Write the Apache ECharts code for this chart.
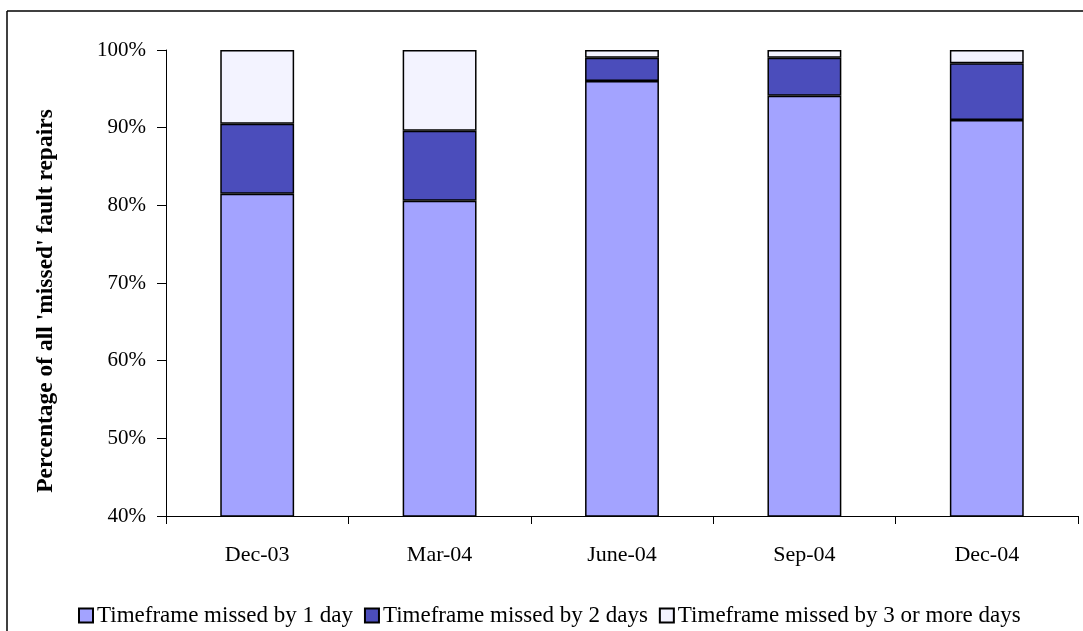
<!DOCTYPE html>
<html>
<head>
<meta charset="utf-8">
<script src="https://cdn.jsdelivr.net/npm/echarts@6/dist/echarts.min.js"></script>
<style>html,body{margin:0;padding:0;background:#fff;}#c{width:1083px;height:631px;}</style>
</head>
<body>
<div id="c"></div>
<script>
var categories = ['Dec-03', 'Mar-04', 'June-04', 'Sep-04', 'Dec-04'];
var missed1Day = [81.5, 80.6, 96.0, 94.1, 91.0];
var missed2Days = [9.0, 9.0, 3.0, 4.9, 7.3];
var missed3Plus = [9.5, 10.4, 1.0, 1.0, 1.7];
var yTicks = [40, 50, 60, 70, 80, 90, 100];
var seriesNames = ['Timeframe missed by 1 day', 'Timeframe missed by 2 days', 'Timeframe missed by 3 or more days'];
var colors = ['#A3A3FF', '#4B4DBB', '#F3F3FF'];

var serif = "'Liberation Serif', 'DejaVu Serif', serif";
var chart = echarts.init(document.getElementById('c'), null, {renderer: 'canvas'});

function mk(i, data) {
  return {
    name: seriesNames[i],
    type: 'bar',
    stack: 'total',
    barWidth: '40.5%',
    data: data,
    itemStyle: {color: colors[i], borderColor: '#000', borderWidth: 1.5},
    emphasis: {disabled: true}
  };
}

chart.setOption({
  animation: false,
  backgroundColor: '#fff',
  textStyle: {fontFamily: serif},
  grid: {left: 166, right: 5, top: 50, bottom: 115, containLabel: false},
  legend: {
    top: 599,
    left: 73,
    itemWidth: 14,
    itemHeight: 14,
    itemGap: 11,
    icon: 'rect',
    itemStyle: {borderWidth: 2, borderColor: '#000'},
    textStyle: {fontFamily: serif, fontSize: 23, color: '#000', padding: [0, 0, 0, -1]},
    data: seriesNames
  },
  xAxis: {
    type: 'category',
    data: categories,
    axisLine: {lineStyle: {color: '#000', width: 1}},
    axisTick: {show: true, length: 8, lineStyle: {color: '#000'}},
    axisLabel: {color: '#000', fontSize: 22, fontFamily: serif, margin: 28}
  },
  yAxis: {
    type: 'value',
    min: yTicks[0],
    max: yTicks[yTicks.length - 1],
    interval: 10,
    name: "Percentage of all 'missed' fault repairs",
    nameLocation: 'middle',
    nameGap: 108,
    nameTextStyle: {fontFamily: serif, fontSize: 23.5, fontWeight: 'bold', color: '#000', padding: [0, 0, 0, -36]},
    axisLine: {show: true, lineStyle: {color: '#000', width: 1}},
    axisTick: {show: true, length: 9, lineStyle: {color: '#000'}},
    splitLine: {show: false},
    axisLabel: {color: '#000', fontSize: 21, fontFamily: serif, margin: 20, formatter: function (v) { return v + '%'; }}
  },
  graphic: [
    {type: 'line', shape: {x1: 7, y1: 11, x2: 1083, y2: 11}, style: {stroke: '#000', lineWidth: 1.5}, silent: true},
    {type: 'line', shape: {x1: 7, y1: 11, x2: 7, y2: 631}, style: {stroke: '#000', lineWidth: 1.5}, silent: true}
  ],
  series: [mk(0, missed1Day), mk(1, missed2Days), mk(2, missed3Plus)]
});
</script>
</body>
</html>
